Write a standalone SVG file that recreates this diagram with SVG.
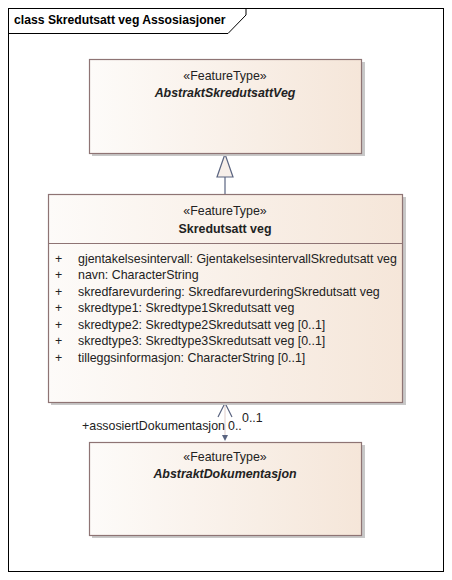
<svg xmlns="http://www.w3.org/2000/svg" width="452" height="580" viewBox="0 0 452 580">
<style>
text{font-family:"Liberation Sans",Arial,sans-serif;font-size:12.4px;fill:#222}
.c{text-anchor:middle}
.b{font-weight:bold}
.i{font-style:italic;font-weight:bold}
.box{fill:url(#g);stroke:#8e7474;stroke-width:1.2}
.sh{fill:#c8c8c8}
.ln{stroke:#5a6480;stroke-width:1.2;fill:none}
</style>
<defs>
<linearGradient id="g" x1="0" y1="0" x2="1" y2="0">
<stop offset="0" stop-color="#fdfbf9"/>
<stop offset="1" stop-color="#f5e6d9"/>
</linearGradient>
</defs>
<rect x="0" y="0" width="452" height="580" fill="#ffffff"/>
<g id="frame">
<rect x="8.5" y="8.5" width="435" height="563" fill="none" stroke="#000" stroke-width="1"/>
<path d="M8.5 33.5 H228 L246 15 V8.5" fill="none" stroke="#000" stroke-width="1"/>
<text x="14" y="24" class="b" style="font-size:12.2px;fill:#000">class Skredutsatt veg Assosiasjoner</text>
</g>
<g id="connectors">
<line class="ln" x1="225" y1="177" x2="225" y2="194"/>
<polygon points="225,154 217,177 233,177" fill="#f7efe9" stroke="#5a6480" stroke-width="1.2"/>
<line x1="225" y1="404" x2="225" y2="436" stroke="#e6d6d2" stroke-width="1.2"/>
<polyline class="ln" points="218,417 225,403 232,417"/>
<polygon points="222,435 228,435 225,441" fill="#5a6480"/>
<text x="242" y="422">0..1</text>
<text x="82" y="430">+assosiertDokumentasjon</text>
<text x="228" y="430">0..</text>
</g>
<g id="AbstraktSkredutsattVeg">
<rect class="sh" x="92" y="62" width="273" height="94"/>
<rect class="box" x="89.5" y="59.5" width="272" height="94"/>
<text x="225" y="80" class="c">«FeatureType»</text>
<text x="225" y="97" class="c i">AbstraktSkredutsattVeg</text>
</g>
<g id="SkredutsattVeg">
<rect class="sh" x="51" y="197" width="355" height="208"/>
<rect class="box" x="48.5" y="194.5" width="354" height="208"/>
<line x1="48.5" y1="243.5" x2="402.5" y2="243.5" stroke="#8e7474" stroke-width="1"/>
<text x="225" y="215" class="c">«FeatureType»</text>
<text x="225" y="233" class="c b">Skredutsatt veg</text>
<text x="55" y="263">+</text><text x="78" y="263">gjentakelsesintervall: GjentakelsesintervallSkredutsatt veg</text>
<text x="55" y="279">+</text><text x="78" y="279">navn: CharacterString</text>
<text x="55" y="296">+</text><text x="78" y="296">skredfarevurdering: SkredfarevurderingSkredutsatt veg</text>
<text x="55" y="312">+</text><text x="78" y="312">skredtype1: Skredtype1Skredutsatt veg</text>
<text x="55" y="329">+</text><text x="78" y="329">skredtype2: Skredtype2Skredutsatt veg [0..1]</text>
<text x="55" y="345">+</text><text x="78" y="345">skredtype3: Skredtype3Skredutsatt veg [0..1]</text>
<text x="55" y="362">+</text><text x="78" y="362">tilleggsinformasjon: CharacterString [0..1]</text>
</g>
<g id="AbstraktDokumentasjon">
<rect class="sh" x="92" y="445" width="273" height="93"/>
<rect class="box" x="89.5" y="442.5" width="272" height="93"/>
<text x="225" y="461" class="c">«FeatureType»</text>
<text x="225" y="478" class="c i">AbstraktDokumentasjon</text>
</g>
</svg>
